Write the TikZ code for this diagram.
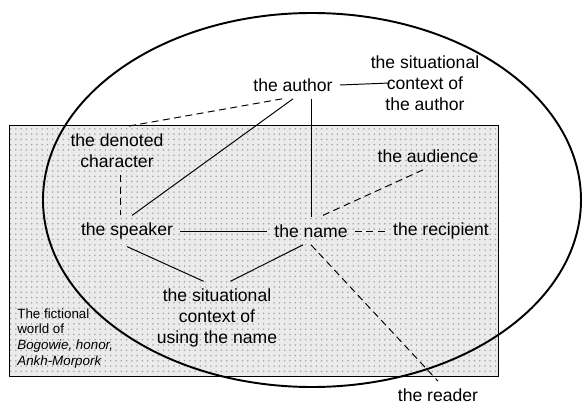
\documentclass[tikz,border=0pt]{standalone}
\usepackage{fontspec}
\setmainfont{Liberation Sans}
\usetikzlibrary{patterns}

\begin{document}
\begin{tikzpicture}[x=0.2mm,y=-0.2mm]
  \tikzset{term/.style={inner sep=4pt,align=center,font=\fontsize{10}{12}\selectfont}}
  \tikzset{link/.style={line width=0.55pt}}
  \tikzset{loose/.style={link,dashed,dash pattern=on 4pt off 2.5pt}}
  \useasboundingbox (0,0) rectangle (582,403);
  % the fictional world and the real one
  \fill[gray!16] (9,125) rectangle (498,376);
  \fill[pattern=dots,pattern color=gray!70] (9,125) rectangle (498,376);
  \draw[line width=0.5pt] (9,125) rectangle (498,376);
  \draw[line width=1.1pt] (312,200) ellipse [x radius=5.38cm, y radius=3.74cm];
  \node[term] (author) at (293,85) {the author};
  \node[term] (authorctx) at (425,83) {the situational\\context of\\the author};
  \node[term] (denoted) at (117,151) {the denoted\\character};
  \node[term] (audience) at (428,156) {the audience};
  \node[term] (speaker) at (127,231) {the speaker};
  \node[term] (name) at (311,231) {the name};
  \node[term] (recipient) at (441,231) {the recipient};
  \node[term] (situation) at (217,318) {the situational\\context of\\using the name};
  \node[term] (reader) at (438,395) {the reader};
  \node[anchor=north west,inner sep=0pt,align=left,font=\fontsize{7.6}{9}\selectfont] (world) at (17,308)
    {The fictional\\world of\\\textit{Bogowie, honor,}\\\textit{Ankh-Morpork}};
  % connectors
  \draw[link] (author.east) -- ([xshift=15pt]authorctx.west);
  \draw[loose] (author.232) -- (denoted.70);
  \draw[link] (author.south) -- (speaker.72);
  \draw[link] (name.north |- author.south) -- (name.north);
  \draw[loose] ([xshift=2pt]denoted.south) -- ([xshift=2pt]denoted.south |- speaker.north);
  \draw[loose] (audience.250) -- (name.60);
  \draw[link] (speaker.east) -- (name.west);
  \draw[loose] (name.east) -- (recipient.west);
  \draw[link] (speaker.south) -- (situation.110);
  \draw[link] (name.240) -- (situation.70);
  \draw[loose] (name.south) -- (reader.north);
\end{tikzpicture}
\end{document}
